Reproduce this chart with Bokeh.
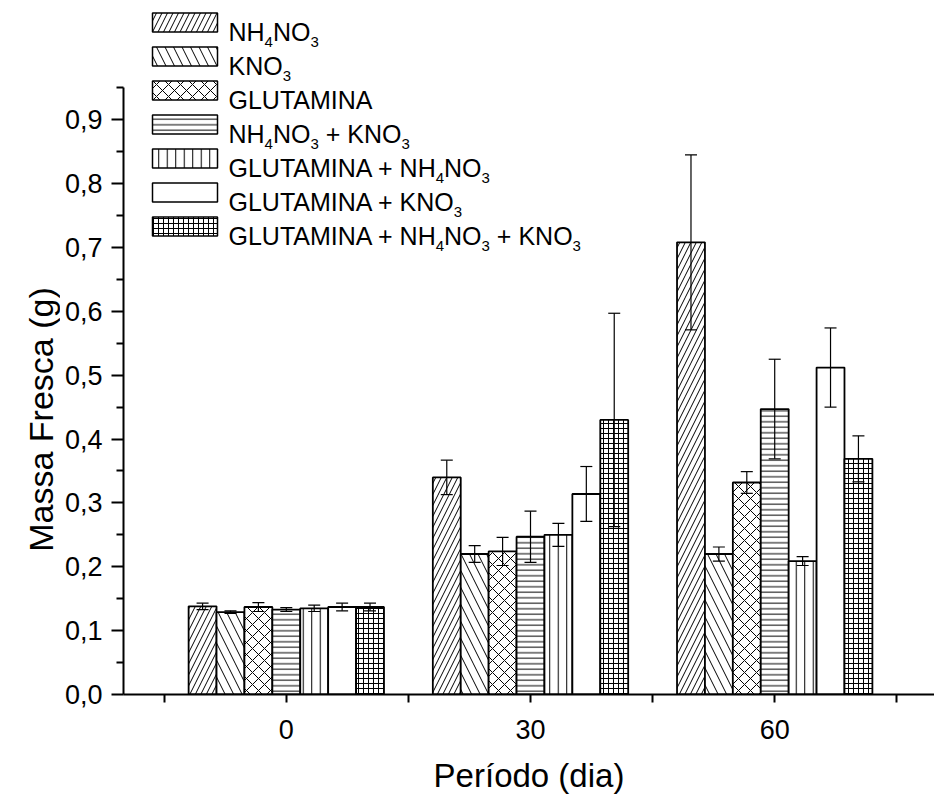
import math
from bokeh.plotting import figure
from bokeh.layouts import row
from bokeh.models import (Range1d, FixedTicker, CustomJSTickFormatter, Whisker,
                          ColumnDataSource, TeeHead)
from bokeh.embed import file_html
from bokeh.resources import INLINE
from bokeh.core.properties import value

# ---------------- data ----------------
periods = [0, 30, 60]
treatments = ["NH4NO3", "KNO3", "GLUTAMINA", "NH4NO3 + KNO3",
              "GLUTAMINA + NH4NO3", "GLUTAMINA + KNO3", "GLUTAMINA + NH4NO3 + KNO3"]
mean_nh4no3 = [0.138, 0.340, 0.708]
mean_kno3 = [0.129, 0.220, 0.220]
mean_glut = [0.137, 0.224, 0.332]
mean_nh4no3_kno3 = [0.133, 0.247, 0.447]
mean_glut_nh4no3 = [0.135, 0.250, 0.209]
mean_glut_kno3 = [0.137, 0.314, 0.512]
mean_glut_nh4no3_kno3 = [0.137, 0.430, 0.369]
err_nh4no3 = [0.005, 0.027, 0.137]
err_kno3 = [0.002, 0.013, 0.011]
err_glut = [0.007, 0.022, 0.017]
err_nh4no3_kno3 = [0.003, 0.040, 0.078]
err_glut_nh4no3 = [0.005, 0.018, 0.007]
err_glut_kno3 = [0.006, 0.043, 0.062]
err_glut_nh4no3_kno3 = [0.006, 0.167, 0.036]
means = [mean_nh4no3, mean_kno3, mean_glut, mean_nh4no3_kno3,
         mean_glut_nh4no3, mean_glut_kno3, mean_glut_nh4no3_kno3]
errs = [err_nh4no3, err_kno3, err_glut, err_nh4no3_kno3,
        err_glut_nh4no3, err_glut_kno3, err_glut_nh4no3_kno3]
# legend labels as (text, is_subscript) pieces
legend_pieces = [
    [("NH", 0), ("4", 1), ("NO", 0), ("3", 1)],
    [("KNO", 0), ("3", 1)],
    [("GLUTAMINA", 0)],
    [("NH", 0), ("4", 1), ("NO", 0), ("3", 1), (" + KNO", 0), ("3", 1)],
    [("GLUTAMINA + NH", 0), ("4", 1), ("NO", 0), ("3", 1)],
    [("GLUTAMINA + KNO", 0), ("3", 1)],
    [("GLUTAMINA + NH", 0), ("4", 1), ("NO", 0), ("3", 1), (" + KNO", 0), ("3", 1)],
]
y_ticks = [0.0, 0.1, 0.2, 0.3, 0.4, 0.5, 0.6, 0.7, 0.8, 0.9]
y_minor = [0.05, 0.15, 0.25, 0.35, 0.45, 0.55, 0.65, 0.75, 0.85, 0.95]
x_minor = [-15, 15, 45, 75]
x_title = "Período (dia)"
y_title = "Massa Fresca (g)"

# ---------------- styles / layout ----------------
hatches = ["/", "\\", "x", "-", "|", " ", "+"]
hatch_scales = [11, 17, 12, 5.5, 8.5, 6, 5]
FONT = "Liberation Sans"

W, H = 934, 799
LW = 60                       # width of the strip holding the y title
FL, FR, FT, FB = 123, 934, 0, 694   # frame edges in page pixels
X0, X1 = -20.0, 79.63
PXY = 638.6
Y1 = (FB - FT) / PXY


def cx(px):
    return X0 + (px - FL) / (FR - FL) * (X1 - X0)


def cy(py):
    return (FB - py) / PXY


# ---- left strip: y-axis title (frame aligned with the main frame) ----
pl = figure(width=LW, height=H, x_range=Range1d(0, LW), y_range=Range1d(0, FB - FT),
            output_backend="svg", toolbar_location=None,
            x_axis_type=None, y_axis_type=None,
            min_border_left=0, min_border_right=0, min_border_top=FT,
            min_border_bottom=H - FB)
pl.outline_line_color = None
pl.xgrid.visible = False
pl.ygrid.visible = False
pl.text(x=[40], y=[FB - 419], text=[y_title], angle=math.pi / 2,
        text_font=value(FONT), text_font_size="34px", text_align="center",
        text_baseline="alphabetic", text_color="black")

# ---- main plot ----
p = figure(width=W - LW, height=H, x_range=Range1d(X0, X1), y_range=Range1d(0, Y1),
           output_backend="svg", toolbar_location=None,
           min_border_left=FL - LW, min_border_right=0, min_border_top=FT,
           min_border_bottom=H - FB)
p.outline_line_color = None
p.xgrid.visible = False
p.ygrid.visible = False
p.background_fill_color = "white"
p.border_fill_color = "white"

xa = p.xaxis[0]
xa.ticker = FixedTicker(ticks=periods, minor_ticks=x_minor)
xa.axis_line_width = 2
xa.axis_line_color = "black"
xa.major_tick_line_width = 2
xa.minor_tick_line_width = 2
xa.major_tick_out = 8
xa.major_tick_in = 0
xa.minor_tick_out = 8
xa.minor_tick_in = 0
xa.major_label_text_font = FONT
xa.major_label_text_font_size = "27px"
xa.major_label_text_color = "black"
xa.major_label_standoff = 17
xa.axis_label = x_title
xa.axis_label_text_font = FONT
xa.axis_label_text_font_size = "33px"
xa.axis_label_text_font_style = "normal"
xa.axis_label_text_color = "black"
xa.axis_label_standoff = 15

ya = p.yaxis[0]
ya.ticker = FixedTicker(ticks=y_ticks, minor_ticks=y_minor)
ya.bounds = (0, 0.95)
ya.formatter = CustomJSTickFormatter(code="return tick.toFixed(1).replace('.', ',');")
ya.axis_line_width = 2
ya.axis_line_color = "black"
ya.major_tick_line_width = 2
ya.minor_tick_line_width = 2
ya.major_tick_out = 12
ya.major_tick_in = 0
ya.minor_tick_out = 7
ya.minor_tick_in = 0
ya.major_label_text_font = FONT
ya.major_label_text_font_size = "27px"
ya.major_label_text_color = "black"
ya.major_label_standoff = 9

bw = 24 / 7
whisk_sources = []
for i in range(len(treatments)):
    xs = [pp + (i - 3) * bw for pp in periods]
    src = ColumnDataSource(dict(
        x=xs, top=means[i],
        upper=[m + e for m, e in zip(means[i], errs[i])],
        lower=[m - e for m, e in zip(means[i], errs[i])]))
    p.vbar(x="x", top="top", width=bw, source=src, fill_color="white",
           line_color="black", line_width=1.8,
           hatch_pattern=hatches[i], hatch_scale=hatch_scales[i],
           hatch_color="black", hatch_weight=1)
    whisk_sources.append(src)

for src in whisk_sources:
    wk = Whisker(base="x", upper="upper", lower="lower", source=src,
                 line_color="black", line_width=1.2, level="annotation",
                 upper_head=TeeHead(size=12, line_color="black", line_width=1.2),
                 lower_head=TeeHead(size=12, line_color="black", line_width=1.2))
    p.add_layout(wk)

# ---------------- legend (manual, with subscripts) ----------------
AW = {' ': 278, '+': 584, 'A': 667, 'G': 778, 'H': 722, 'I': 278, 'K': 667,
      'L': 556, 'M': 833, 'N': 722, 'O': 778, 'T': 611, 'U': 722}
for d in "0123456789":
    AW[d] = 556
KERN = {"TA": -74, "A ": -55, " A": -55}


def text_width(s, fs):
    w = sum(AW.get(c, 600) for c in s)
    for a, b in zip(s, s[1:]):
        w += KERN.get(a + b, 0)
    return w * fs / 1000.0


LEG_FS, SUB_FS = 25, 15
SUB_DROP = 10
row0, pitch = 22.0, 34.0
sw_l, sw_r, sw_h = 152, 217, 19
txt_x0 = 228

for i, pieces in enumerate(legend_pieces):
    yc = row0 + i * pitch
    p.quad(left=cx(sw_l), right=cx(sw_r), top=cy(yc - sw_h / 2), bottom=cy(yc + sw_h / 2),
           fill_color="white", line_color="black", line_width=1.5,
           hatch_pattern=hatches[i], hatch_scale=hatch_scales[i],
           hatch_color="black", hatch_weight=1)
    xcur = txt_x0
    base = yc + 0.716 * LEG_FS / 2 + 1
    for txt, sub in pieces:
        fs = SUB_FS if sub else LEG_FS
        yb = base + SUB_DROP if sub else base
        lead = len(txt) - len(txt.lstrip(" "))
        xdraw = xcur + text_width(" " * lead, fs)
        p.text(x=[cx(xdraw)], y=[cy(yb)], text=[txt.strip(" ")], text_font=value(FONT),
               text_font_size=f"{fs}px", text_baseline="alphabetic",
               text_align="left", text_color="black")
        xcur += text_width(txt, fs)

layout = row(pl, p, spacing=0)
open("out.html", "w").write(file_html(layout, INLINE))
